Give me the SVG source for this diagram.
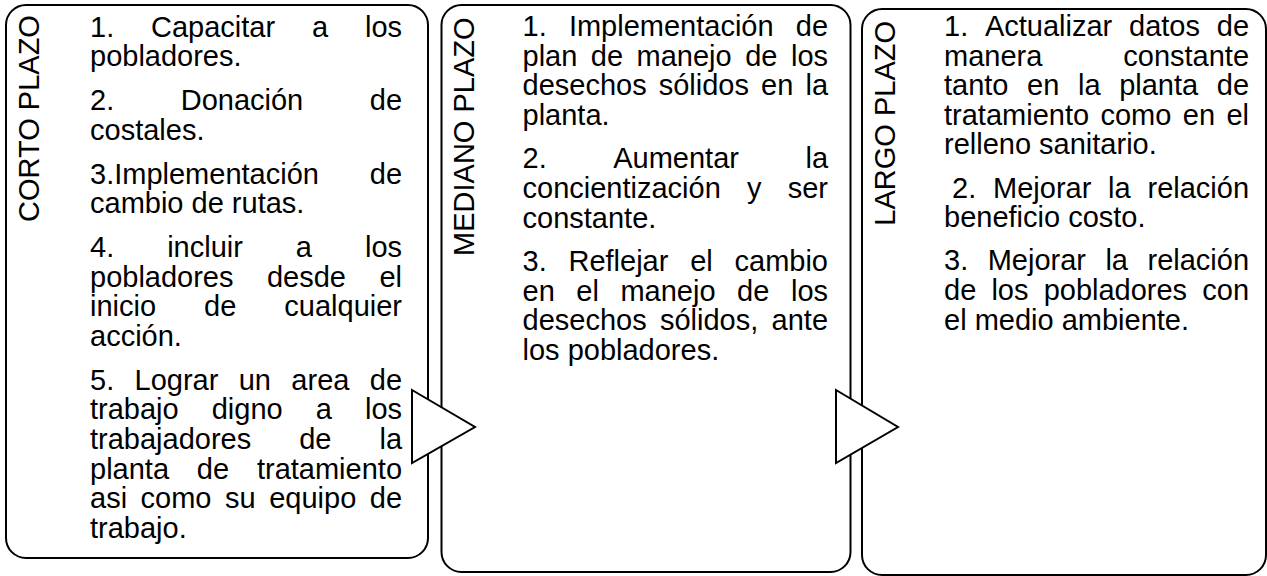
<svg xmlns="http://www.w3.org/2000/svg" width="1267" height="576" viewBox="0 0 1267 576">
<style>
.box{fill:#fff;stroke:#000;stroke-width:2}
.arr{fill:#fff;stroke:#000;stroke-width:2;stroke-linejoin:miter}
.t{font-family:"Liberation Sans",Arial,sans-serif;font-size:29px;fill:#000}
.lab{font-family:"Liberation Sans",Arial,sans-serif;font-size:29px;fill:#000;text-anchor:middle}
</style>
<rect width="1267" height="576" fill="#fff"/>
<g id="node-corto">
<rect class="box" x="6" y="5" width="422" height="553" rx="20" ry="20"/>
<text class="lab" transform="translate(38.5,118.5) rotate(-90)">CORTO PLAZO</text>
<text class="t" y="36.7"><tspan x="90">1.</tspan><tspan x="151.04">Capacitar</tspan><tspan x="311.98">a</tspan><tspan x="364.94">los</tspan></text>
<text class="t" x="90" y="66.3">pobladores.</text>
<text class="t" y="110.2"><tspan x="90">2.</tspan><tspan x="180.72">Donación</tspan><tspan x="369.75">de</tspan></text>
<text class="t" x="90" y="139.8">costales.</text>
<text class="t" y="183.6"><tspan x="90">3.Implementación</tspan><tspan x="369.75">de</tspan></text>
<text class="t" x="90" y="213.2">cambio de rutas.</text>
<text class="t" y="257"><tspan x="90">4.</tspan><tspan x="167.16">incluir</tspan><tspan x="295.85">a</tspan><tspan x="364.94">los</tspan></text>
<text class="t" y="286.6"><tspan x="90">pobladores</tspan><tspan x="266.95">desde</tspan><tspan x="379.44">el</tspan></text>
<text class="t" y="316.2"><tspan x="90">inicio</tspan><tspan x="204.08">de</tspan><tspan x="284.35">cualquier</tspan></text>
<text class="t" x="90" y="345.8">acción.</text>
<text class="t" y="389.7"><tspan x="90">5.</tspan><tspan x="134.56">Lograr</tspan><tspan x="238.74">un</tspan><tspan x="291.36">area</tspan><tspan x="369.75">de</tspan></text>
<text class="t" y="419.3"><tspan x="90">trabajo</tspan><tspan x="211.73">digno</tspan><tspan x="315.74">a</tspan><tspan x="364.94">los</tspan></text>
<text class="t" y="448.9"><tspan x="90">trabajadores</tspan><tspan x="299.18">de</tspan><tspan x="379.44">la</tspan></text>
<text class="t" y="478.5"><tspan x="90">planta</tspan><tspan x="196.85">de</tspan><tspan x="256.94">tratamiento</tspan></text>
<text class="t" y="508.1"><tspan x="90">asi</tspan><tspan x="140.59">como</tspan><tspan x="225.03">su</tspan><tspan x="269.18">equipo</tspan><tspan x="369.75">de</tspan></text>
<text class="t" x="90" y="537.7">trabajo.</text>
</g>
<g id="node-mediano">
<rect class="box" x="441.5" y="5" width="409" height="567" rx="20" ry="20"/>
<text class="lab" transform="translate(473.5,136.7) rotate(-90)">MEDIANO PLAZO</text>
<text class="t" y="36"><tspan x="522.5">1.</tspan><tspan x="568.88">Implementación</tspan><tspan x="795.75">de</tspan></text>
<text class="t" y="65.6"><tspan x="522.5">plan</tspan><tspan x="590.82">de</tspan><tspan x="636.58">manejo</tspan><tspan x="745.18">de</tspan><tspan x="790.94">los</tspan></text>
<text class="t" y="95.2"><tspan x="522.5">desechos</tspan><tspan x="658.73">sólidos</tspan><tspan x="761.09">en</tspan><tspan x="805.44">la</tspan></text>
<text class="t" x="522.5" y="124.8">planta.</text>
<text class="t" y="168.4"><tspan x="522.5">2.</tspan><tspan x="613.21">Aumentar</tspan><tspan x="805.44">la</tspan></text>
<text class="t" y="198"><tspan x="522.5">concientización</tspan><tspan x="746.98">y</tspan><tspan x="787.72">ser</tspan></text>
<text class="t" x="522.5" y="227.6">constante.</text>
<text class="t" y="271.2"><tspan x="522.5">3.</tspan><tspan x="568.48">Reflejar</tspan><tspan x="690.18">el</tspan><tspan x="734.53">cambio</tspan></text>
<text class="t" y="300.8"><tspan x="522.5">en</tspan><tspan x="576.32">el</tspan><tspan x="620.45">manejo</tspan><tspan x="737.11">de</tspan><tspan x="790.94">los</tspan></text>
<text class="t" y="330.4"><tspan x="522.5">desechos</tspan><tspan x="659.94">sólidos,</tspan><tspan x="771.57">ante</tspan></text>
<text class="t" x="522.5" y="360">los pobladores.</text>
</g>
<g id="node-largo">
<rect class="box" x="862" y="9" width="404" height="566" rx="20" ry="20"/>
<text class="lab" transform="translate(895,123.3) rotate(-90)">LARGO PLAZO</text>
<text class="t" y="36"><tspan x="944">1.</tspan><tspan x="984.96">Actualizar</tspan><tspan x="1129.04">datos</tspan><tspan x="1216.75">de</tspan></text>
<text class="t" y="65.6"><tspan x="944">manera</tspan><tspan x="1123.26">constante</tspan></text>
<text class="t" y="95.2"><tspan x="944">tanto</tspan><tspan x="1027.11">en</tspan><tspan x="1077.97">la</tspan><tspan x="1119.14">planta</tspan><tspan x="1216.75">de</tspan></text>
<text class="t" y="124.8"><tspan x="944">tratamiento</tspan><tspan x="1100.47">como</tspan><tspan x="1182.79">en</tspan><tspan x="1226.44">el</tspan></text>
<text class="t" x="944" y="154.4">relleno sanitario.</text>
<text class="t" y="197.6"><tspan x="952.06">2.</tspan><tspan x="993.04">Mejorar</tspan><tspan x="1108.11">la</tspan><tspan x="1147.47">relación</tspan></text>
<text class="t" x="944" y="227.2">beneficio costo.</text>
<text class="t" y="270.3"><tspan x="944">3.</tspan><tspan x="987.67">Mejorar</tspan><tspan x="1105.43">la</tspan><tspan x="1147.47">relación</tspan></text>
<text class="t" y="299.9"><tspan x="944">de</tspan><tspan x="991.41">los</tspan><tspan x="1043.63">pobladores</tspan><tspan x="1202.25">con</tspan></text>
<text class="t" x="944" y="329.5">el medio ambiente.</text>
</g>
<g id="connectors">
<polygon class="arr" points="412,390 475,427 412,463"/>
<polygon class="arr" points="836,390 898,427 836,463"/>
</g>
</svg>
